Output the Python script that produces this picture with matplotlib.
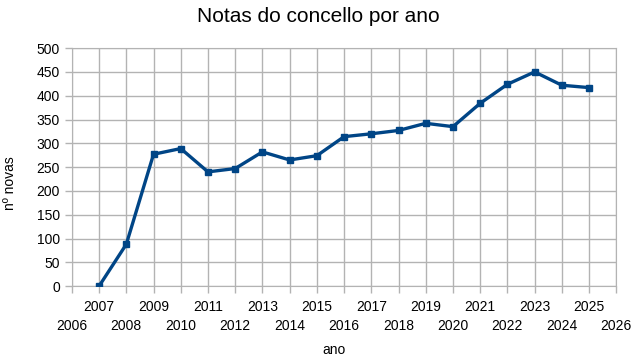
import matplotlib
matplotlib.use('Agg')
from matplotlib import pyplot as plt

YEARS = list(range(2007, 2026))
NOTAS = [0, 88, 277, 289, 240, 247, 282, 265, 274, 314,
         320, 327, 342, 335, 384, 424, 450, 422, 417]

LINE_COLOR = '#004586'
GRID_COLOR = '#b3b3b3'


def main():
    plt.rcParams['font.family'] = ['Liberation Sans', 'DejaVu Sans']
    fig = plt.figure(figsize=(6.36, 3.59), dpi=100)
    ax = fig.add_axes([0.113, 0.203, 0.856, 0.663])

    ax.plot(YEARS, NOTAS, color=LINE_COLOR, linewidth=2.4,
            marker='s', markersize=4.5, zorder=3)

    ax.set_xlim(2006, 2026)
    ax.set_ylim(0, 500)
    # odd years on the upper row, even years on the lower row
    odd = list(range(2007, 2026, 2))
    even = list(range(2006, 2027, 2))
    ax.set_xticks(odd)
    ax.set_xticklabels([str(t) for t in odd])
    ax.set_xticks(even, minor=True)
    ax.set_xticklabels([str(t) for t in even], minor=True)
    ax.set_yticks(range(0, 501, 50))
    ax.tick_params(axis='both', which='both', labelsize=10, color=GRID_COLOR,
                   length=5, width=1)
    ax.tick_params(axis='x', which='major', pad=5)
    ax.tick_params(axis='x', which='minor', pad=19)

    ax.grid(True, which='both', axis='x', color=GRID_COLOR, linewidth=1)
    ax.grid(True, which='major', axis='y', color=GRID_COLOR, linewidth=1)
    ax.set_axisbelow(True)
    for s in ax.spines.values():
        s.set_color(GRID_COLOR)

    fig.text(0.5, 0.953, 'Notas do concello por ano', fontsize=15,
             ha='center', va='center')
    fig.text(0.525, 0.025, 'ano', fontsize=10, ha='center', va='center')
    fig.text(0.016, 0.49, 'nº novas', fontsize=10, ha='center', va='center',
             rotation=90)

    fig.savefig('out.png', dpi=100)


if __name__ == '__main__':
    main()
